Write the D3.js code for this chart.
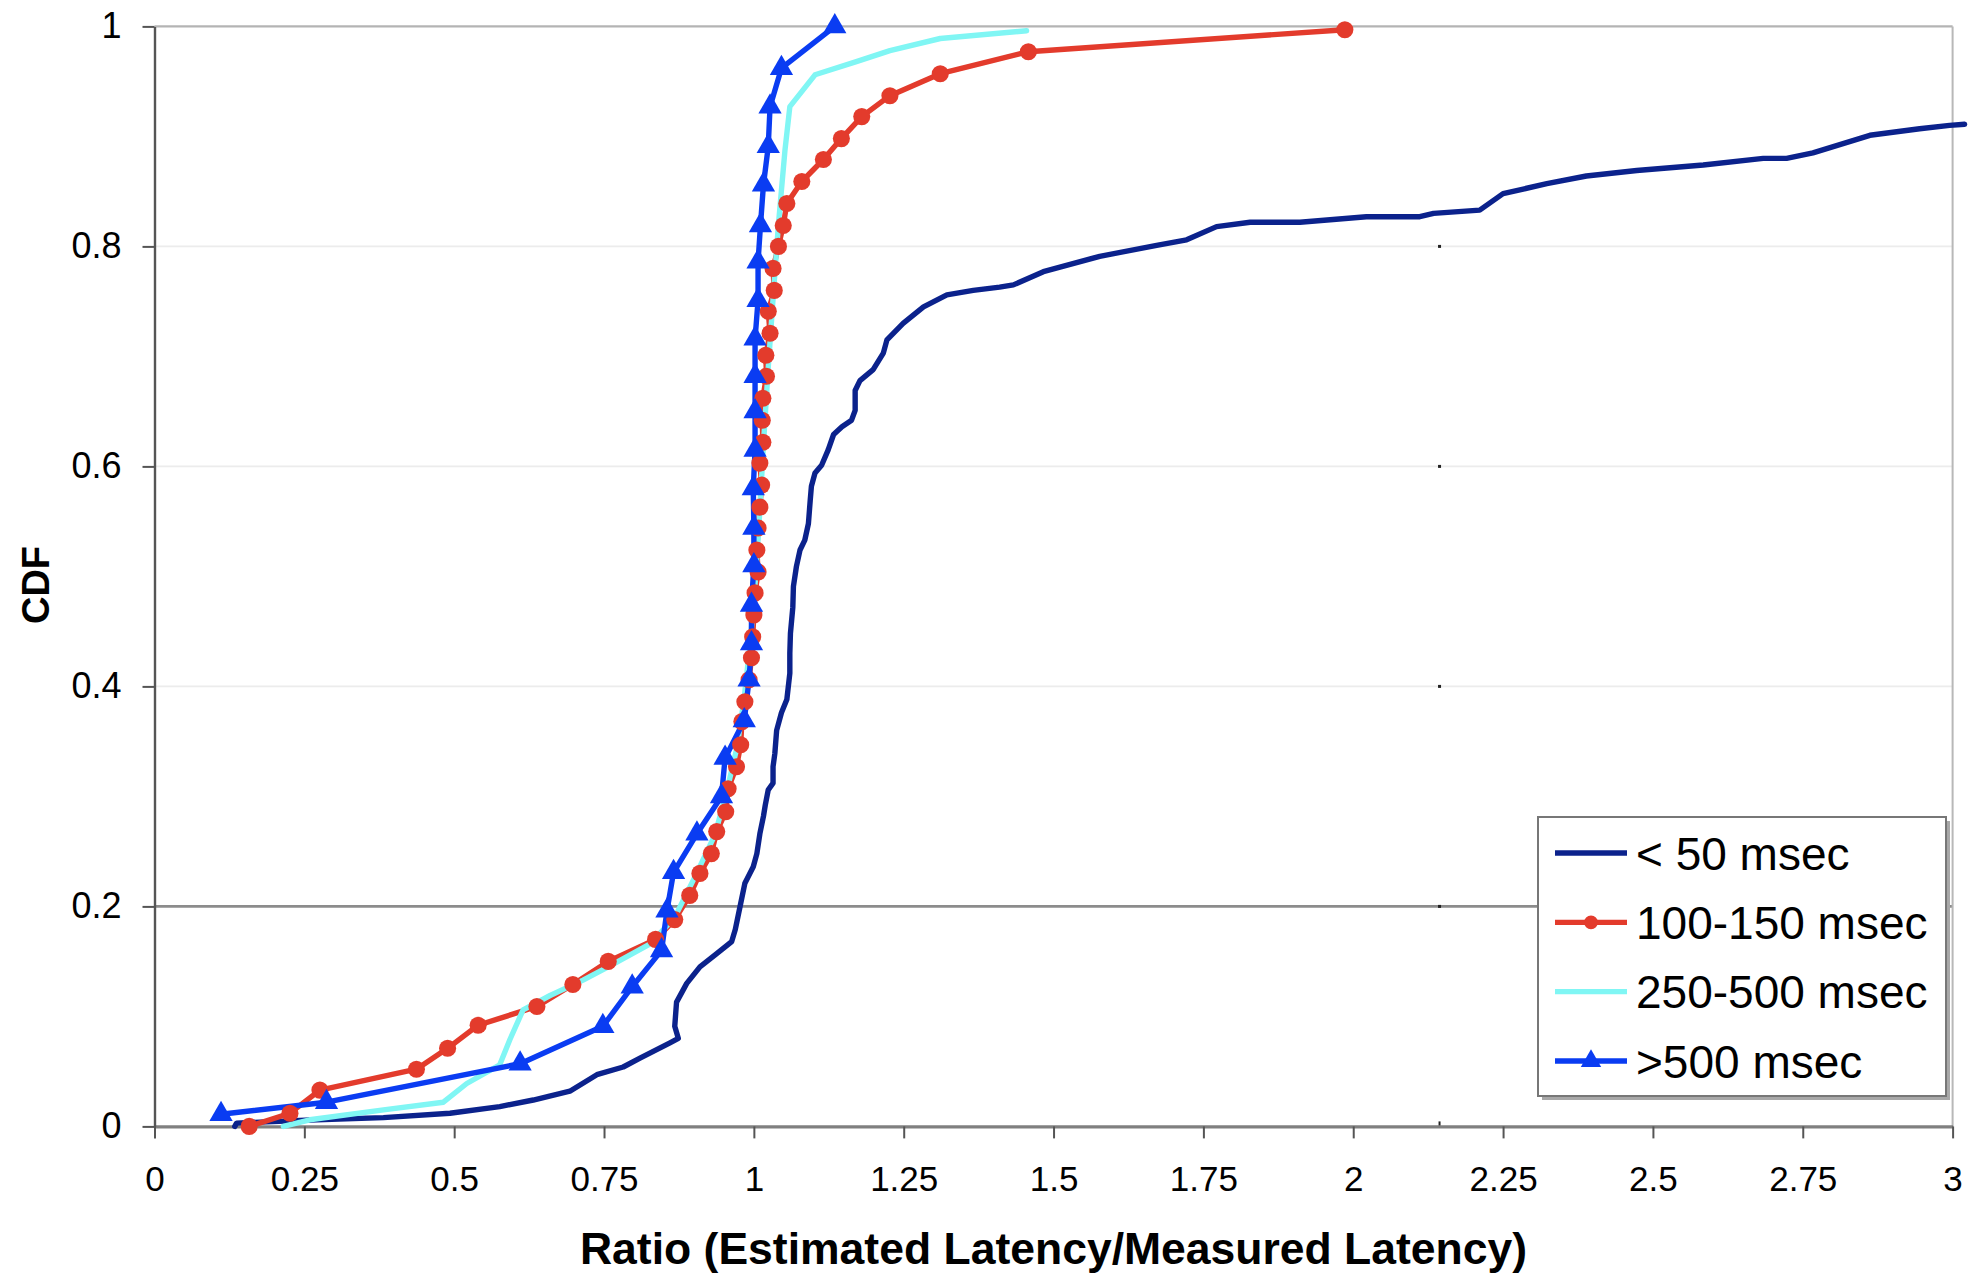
<!DOCTYPE html>
<html>
<head>
<meta charset="utf-8">
<script src="https://cdn.jsdelivr.net/npm/d3@7/dist/d3.min.js"></script>
<style>
  html, body { margin: 0; padding: 0; background: #ffffff; }
  svg { display: block; }
  text { font-family: "Liberation Sans", Arial, Helvetica, sans-serif; fill: #000; }
</style>
</head>
<body>
<svg id="chart" width="1969" height="1273"></svg>
<script>
// Axis ticks and labels
const xTicks = [0, 0.25, 0.5, 0.75, 1, 1.25, 1.5, 1.75, 2, 2.25, 2.5, 2.75, 3];
const xTickLabels = ["0", "0.25", "0.5", "0.75", "1", "1.25", "1.5", "1.75", "2", "2.25", "2.5", "2.75", "3"];
const yTicks = [0, 0.2, 0.4, 0.6, 0.8, 1];
const yTickLabels = ["0", "0.2", "0.4", "0.6", "0.8", "1"];

const seriesNames = ["< 50 msec", "100-150 msec", "250-500 msec", ">500 msec"];

// CDF of estimated/measured latency ratio, grouped by measured latency
const under50 = [
  [0.134, 0.000], [0.137, 0.003], [0.271, 0.006], [0.382, 0.008], [0.493, 0.012],
  [0.576, 0.018], [0.632, 0.024], [0.693, 0.032], [0.738, 0.047], [0.782, 0.054],
  [0.810, 0.062], [0.860, 0.076], [0.874, 0.080], [0.868, 0.091], [0.871, 0.113],
  [0.888, 0.130], [0.910, 0.145], [0.938, 0.157], [0.963, 0.168], [0.969, 0.179],
  [0.977, 0.200], [0.985, 0.221], [0.999, 0.236], [1.005, 0.248], [1.010, 0.266],
  [1.016, 0.282], [1.019, 0.292], [1.024, 0.306], [1.032, 0.312], [1.032, 0.327],
  [1.035, 0.339], [1.038, 0.360], [1.046, 0.376], [1.055, 0.388], [1.060, 0.412],
  [1.060, 0.430], [1.061, 0.448], [1.065, 0.472], [1.066, 0.491], [1.071, 0.509],
  [1.077, 0.524], [1.085, 0.533], [1.091, 0.548], [1.094, 0.569], [1.096, 0.582],
  [1.102, 0.594], [1.113, 0.601], [1.124, 0.615], [1.133, 0.629], [1.147, 0.636],
  [1.163, 0.642], [1.169, 0.651], [1.169, 0.669], [1.177, 0.678], [1.199, 0.688],
  [1.216, 0.703], [1.222, 0.715], [1.249, 0.730], [1.283, 0.745], [1.322, 0.756],
  [1.366, 0.760], [1.410, 0.763], [1.433, 0.765], [1.483, 0.777], [1.577, 0.791],
  [1.672, 0.801], [1.722, 0.806], [1.772, 0.818], [1.828, 0.822], [1.911, 0.822],
  [2.022, 0.827], [2.111, 0.827], [2.134, 0.830], [2.211, 0.833], [2.250, 0.848],
  [2.323, 0.857], [2.389, 0.864], [2.473, 0.869], [2.584, 0.874], [2.684, 0.880],
  [2.723, 0.880], [2.767, 0.885], [2.862, 0.901], [2.945, 0.907], [2.995, 0.910],
  [3.020, 0.911]
];

const from100to150 = [
  [0.158, 0.000], [0.226, 0.012], [0.276, 0.033], [0.437, 0.052], [0.489, 0.071],
  [0.540, 0.092], [0.638, 0.109], [0.698, 0.129], [0.757, 0.150], [0.836, 0.170],
  [0.868, 0.188], [0.893, 0.210], [0.910, 0.230], [0.929, 0.248], [0.938, 0.268],
  [0.953, 0.286], [0.957, 0.307], [0.971, 0.327], [0.978, 0.347], [0.980, 0.368],
  [0.985, 0.386], [0.992, 0.406], [0.996, 0.426], [0.998, 0.445], [1.000, 0.465],
  [1.002, 0.485], [1.007, 0.504], [1.005, 0.524], [1.007, 0.544], [1.010, 0.563],
  [1.013, 0.583], [1.010, 0.603], [1.015, 0.622], [1.014, 0.642], [1.015, 0.662],
  [1.021, 0.682], [1.020, 0.701], [1.027, 0.721], [1.024, 0.741], [1.034, 0.760],
  [1.032, 0.780], [1.041, 0.800], [1.049, 0.819], [1.055, 0.839], [1.080, 0.859],
  [1.116, 0.879], [1.146, 0.898], [1.180, 0.918], [1.227, 0.937], [1.311, 0.957],
  [1.458, 0.977], [1.986, 0.997]
];

const from250to500 = [
  [0.215, 0.000], [0.259, 0.006], [0.382, 0.015], [0.482, 0.022], [0.521, 0.039],
  [0.576, 0.056], [0.593, 0.079], [0.615, 0.106], [0.660, 0.119], [0.715, 0.133],
  [0.757, 0.145], [0.827, 0.166], [0.868, 0.190], [0.900, 0.225], [0.935, 0.265],
  [0.955, 0.305], [0.972, 0.345], [0.984, 0.390], [0.994, 0.440], [1.003, 0.500],
  [1.010, 0.560], [1.016, 0.620], [1.024, 0.690], [1.033, 0.760], [1.041, 0.820],
  [1.045, 0.845], [1.052, 0.888], [1.060, 0.927], [1.102, 0.956], [1.171, 0.968],
  [1.227, 0.978], [1.311, 0.989], [1.455, 0.996]
];

const over500 = [
  [0.111, 0.011], [0.287, 0.022], [0.610, 0.057], [0.748, 0.091], [0.797, 0.127],
  [0.846, 0.160], [0.855, 0.196], [0.866, 0.231], [0.905, 0.266], [0.946, 0.300],
  [0.952, 0.335], [0.984, 0.369], [0.992, 0.406], [0.996, 0.439], [0.996, 0.474],
  [1.000, 0.510], [1.000, 0.544], [0.999, 0.580], [1.002, 0.615], [1.002, 0.650],
  [1.002, 0.682], [1.002, 0.716], [1.007, 0.751], [1.007, 0.786], [1.011, 0.819],
  [1.016, 0.856], [1.024, 0.891], [1.027, 0.927], [1.046, 0.962], [1.135, 1.000]
];

// Position of the stray tick marks along the gridlines
const strayTickX = 2.144;

const series = [
  { name: seriesNames[0], data: under50,      color: "#0b228c", marker: null },
  { name: seriesNames[1], data: from100to150, color: "#e33b2c", marker: "circle" },
  { name: seriesNames[2], data: from250to500, color: "#80f6f4", marker: null },
  { name: seriesNames[3], data: over500,      color: "#0a3cf2", marker: "triangle" }
];

const svg = d3.select("#chart");
const x = d3.scaleLinear().domain([0, 3]).range([154.5, 1952.6]);
const y = d3.scaleLinear().domain([0, 1]).range([1126.4, 26.4]);

// Horizontal gridlines
const gridStyle = {
  0.2: { c: "#8c8c8c", w: 2.6 },
  0.4: { c: "#ececec", w: 1.6 },
  0.6: { c: "#ececec", w: 1.6 },
  0.8: { c: "#ececec", w: 1.6 },
  1:   { c: "#b4b4b4", w: 2.2 }
};
svg.append("g").selectAll("line")
  .data(yTicks.filter(v => v > 0))
  .join("line")
  .attr("x1", x(0)).attr("x2", x(3))
  .attr("y1", d => y(d)).attr("y2", d => y(d))
  .attr("stroke", d => gridStyle[d].c)
  .attr("stroke-width", d => gridStyle[d].w);

// Right border of the plot area
svg.append("line")
  .attr("x1", x(3)).attr("x2", x(3))
  .attr("y1", y(1)).attr("y2", y(0))
  .attr("stroke", "#b8b8b8").attr("stroke-width", 2);

// Stray tick marks
svg.append("g").selectAll("rect")
  .data(yTicks.filter(v => v > 0 && v < 1))
  .join("rect")
  .attr("x", x(strayTickX) - 1.5).attr("y", d => y(d) - 1.5)
  .attr("width", 3).attr("height", 3)
  .attr("fill", "#222");
svg.append("line")
  .attr("x1", x(strayTickX)).attr("x2", x(strayTickX))
  .attr("y1", y(0)).attr("y2", y(0) - 5)
  .attr("stroke", "#222").attr("stroke-width", 2);

// X axis
const xAxis = svg.append("g")
  .attr("transform", `translate(0,${y(0)})`)
  .call(d3.axisBottom(x).tickValues(xTicks)
    .tickFormat((d, i) => xTickLabels[i])
    .tickSize(12).tickPadding(28).tickSizeOuter(0));
xAxis.select(".domain").attr("stroke", "#808080").attr("stroke-width", 3.2);
xAxis.selectAll(".tick line").attr("stroke", "#555").attr("stroke-width", 2);
xAxis.selectAll(".tick text")
  .attr("font-size", 35).attr("font-family", "Liberation Sans, Arial, sans-serif").attr("fill", "#000");

// Y axis
const yAxis = svg.append("g")
  .attr("transform", `translate(${x(0)},0)`)
  .call(d3.axisLeft(y).tickValues(yTicks)
    .tickFormat((d, i) => yTickLabels[i])
    .tickSize(12).tickPadding(21).tickSizeOuter(0));
yAxis.select(".domain").attr("stroke", "#555").attr("stroke-width", 2.4);
yAxis.selectAll(".tick line").attr("stroke", "#555").attr("stroke-width", 2);
yAxis.selectAll(".tick text")
  .attr("font-size", 36).attr("font-family", "Liberation Sans, Arial, sans-serif").attr("fill", "#000");

// Series lines
const line = d3.line().x(d => x(d[0])).y(d => y(d[1]));
svg.append("g").selectAll("path")
  .data(series)
  .join("path")
  .attr("d", s => line(s.data))
  .attr("fill", "none")
  .attr("stroke", s => s.color)
  .attr("stroke-width", 5.4)
  .attr("stroke-linejoin", "round")
  .attr("stroke-linecap", "round");

// Markers
const circleSym = d3.symbol().type(d3.symbolCircle).size(230);
const triSym = d3.symbol().type(d3.symbolTriangle).size(235);
series.filter(s => s.marker).forEach(s => {
  svg.append("g").selectAll("path")
    .data(s.data)
    .join("path")
    .attr("transform", d => `translate(${x(d[0])},${y(d[1])})`)
    .attr("d", s.marker === "circle" ? circleSym : triSym)
    .attr("fill", s.color);
});

// Axis titles
svg.append("text")
  .attr("x", (x(0) + x(3)) / 2).attr("y", 1264)
  .attr("text-anchor", "middle")
  .attr("font-size", 44.5).attr("font-weight", "bold")
  .text("Ratio (Estimated Latency/Measured Latency)");

svg.append("text")
  .attr("transform", "translate(35,585) rotate(-90)")
  .attr("text-anchor", "middle").attr("dy", "0.36em")
  .attr("font-size", 38).attr("font-weight", "bold")
  .text("CDF");

// Legend
const lg = svg.append("g");
const lgBox = { x0: 1538, y0: 817, x1: 1946, y1: 1096 };
lg.append("rect")
  .attr("x", lgBox.x0 + 4).attr("y", lgBox.y0 + 4)
  .attr("width", lgBox.x1 - lgBox.x0).attr("height", lgBox.y1 - lgBox.y0)
  .attr("fill", "#a8a8a8");
lg.append("rect")
  .attr("x", lgBox.x0).attr("y", lgBox.y0)
  .attr("width", lgBox.x1 - lgBox.x0).attr("height", lgBox.y1 - lgBox.y0)
  .attr("fill", "#fff").attr("stroke", "#777").attr("stroke-width", 2);

const rowY = d3.scalePoint().domain(seriesNames).range([853, 1061]);
const items = lg.selectAll("g.item").data(series).join("g")
  .attr("class", "item")
  .attr("transform", s => `translate(0,${rowY(s.name)})`);
items.append("line")
  .attr("x1", 1555).attr("x2", 1627)
  .attr("stroke", s => s.color).attr("stroke-width", 5.4);
items.filter(s => s.marker).append("path")
  .attr("transform", "translate(1591,0)")
  .attr("d", s => s.marker === "circle"
    ? d3.symbol().type(d3.symbolCircle).size(150)()
    : d3.symbol().type(d3.symbolTriangle).size(180)())
  .attr("fill", s => s.color);
items.append("text")
  .attr("x", 1636).attr("dy", "0.36em")
  .attr("font-size", 46)
  .text(s => s.name);
</script>
</body>
</html>
